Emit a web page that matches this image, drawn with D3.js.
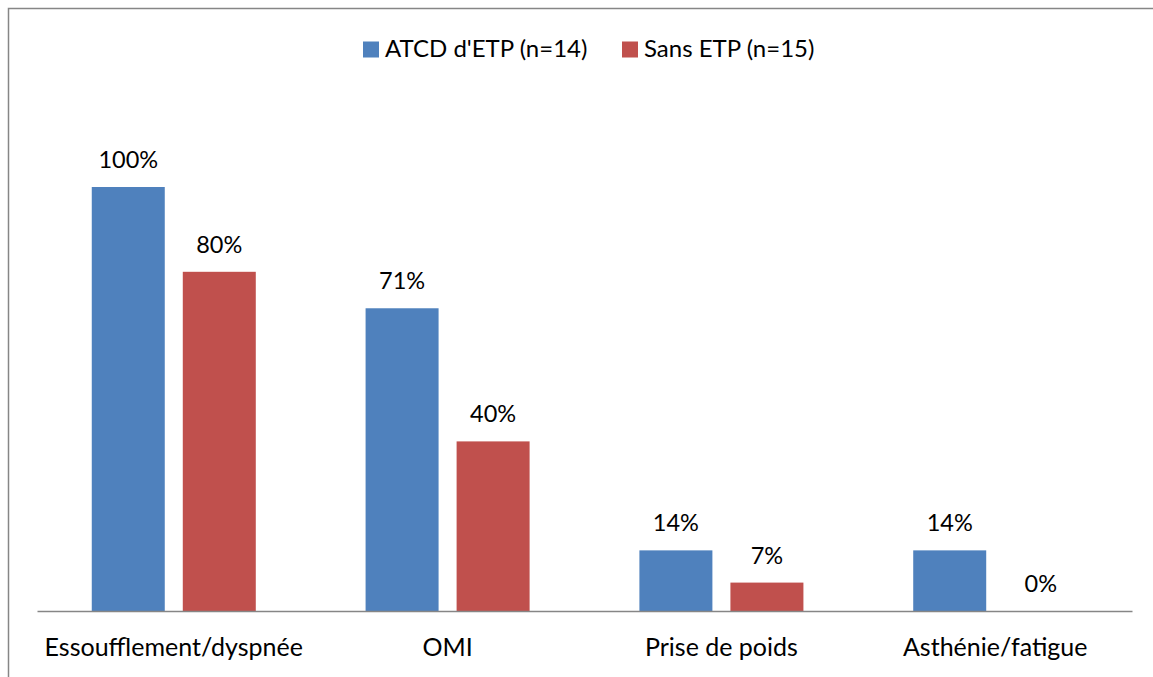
<!DOCTYPE html>
<html>
<head>
<meta charset="utf-8">
<script src="https://cdn.jsdelivr.net/npm/d3@7"></script>
<style>
  body { margin: 0; background: #fff; }
  svg text { font-family: Lato, "Open Sans", sans-serif; fill: #000; }
</style>
</head>
<body>
<svg width="1153" height="677"></svg>
<script>
// categories and series
const categories = ['Essoufflement/dyspnée', 'OMI', 'Prise de poids', 'Asthénie/fatigue'];
const seriesNames = ["ATCD d'ETP (n=14)", 'Sans ETP (n=15)'];
const atcdValues = [100, 71.4, 14.3, 14.3];
const sansValues = [80, 40, 6.7, 0];
const colors = ['#4F81BD', '#C0504D'];

const svg = d3.select('svg');

// chart frame (only left/top visible)
svg.append('rect')
    .attr('x', 8.5)
    .attr('y', 8.5)
    .attr('width', 1300)
    .attr('height', 800)
    .attr('fill', 'none')
    .attr('stroke', '#868686')
    .attr('stroke-width', 1.5);

const plotLeft = 37, plotRight = 1132, plotTop = 187, plotBottom = 611;

const x0 = d3.scaleBand()
    .domain(categories)
    .range([plotLeft, plotRight])
    .paddingInner(0.401)
    .paddingOuter(0.2);

const x1 = d3.scaleBand()
    .domain(seriesNames)
    .range([0, x0.bandwidth()])
    .paddingInner(0.198);

const y = d3.scaleLinear()
    .domain([0, 100])
    .range([plotBottom, plotTop]);

const rows = categories.map((c, i) => ({
  cat: c,
  vals: [atcdValues[i], sansValues[i]].map((v, j) => ({ name: seriesNames[j], value: v, color: colors[j] }))
}));

// bars
const groups = svg.selectAll('.grp')
    .data(rows)
    .enter()
    .append('g')
    .attr('class', 'grp')
    .attr('transform', (d) => `translate(${x0(d.cat)},0)`);

groups.selectAll('rect')
    .data((d) => d.vals)
    .enter()
    .append('rect')
    .attr('x', (d) => x1(d.name))
    .attr('y', (d) => y(d.value))
    .attr('width', x1.bandwidth())
    .attr('height', (d) => y(0) - y(d.value))
    .attr('fill', (d) => d.color);

// value labels
groups.selectAll('.value')
    .data((d) => d.vals)
    .enter()
    .append('text')
    .attr('class', 'value')
    .attr('x', (d) => x1(d.name) + x1.bandwidth() / 2)
    .attr('y', (d) => y(d.value) - 19)
    .attr('text-anchor', 'middle')
    .style('font-size', '23.5px')
    .text((d) => Math.round(d.value) + '%');

// x axis
const xAxis = svg.append('g')
    .attr('transform', `translate(0,${plotBottom})`)
    .call(d3.axisBottom(x0).tickSize(0).tickPadding(27));

xAxis.select('.domain')
    .attr('stroke', '#868686')
    .attr('stroke-width', 1.3);

xAxis.selectAll('text')
    .style('font-size', '25px')
    .attr('dy', '0.71em')
    .attr('fill', '#000');

// legend
const legendX = [363, 622];
const legend = svg.selectAll('.leg')
    .data(seriesNames)
    .enter()
    .append('g')
    .attr('class', 'leg')
    .attr('transform', (d, i) => `translate(${legendX[i]},41.5)`);

legend.append('rect')
    .attr('width', 16)
    .attr('height', 16)
    .attr('fill', (d, i) => colors[i]);

legend.append('text')
    .attr('x', 22)
    .attr('y', 15)
    .style('font-size', '24px')
    .text((d) => d);
</script>
</body>
</html>
